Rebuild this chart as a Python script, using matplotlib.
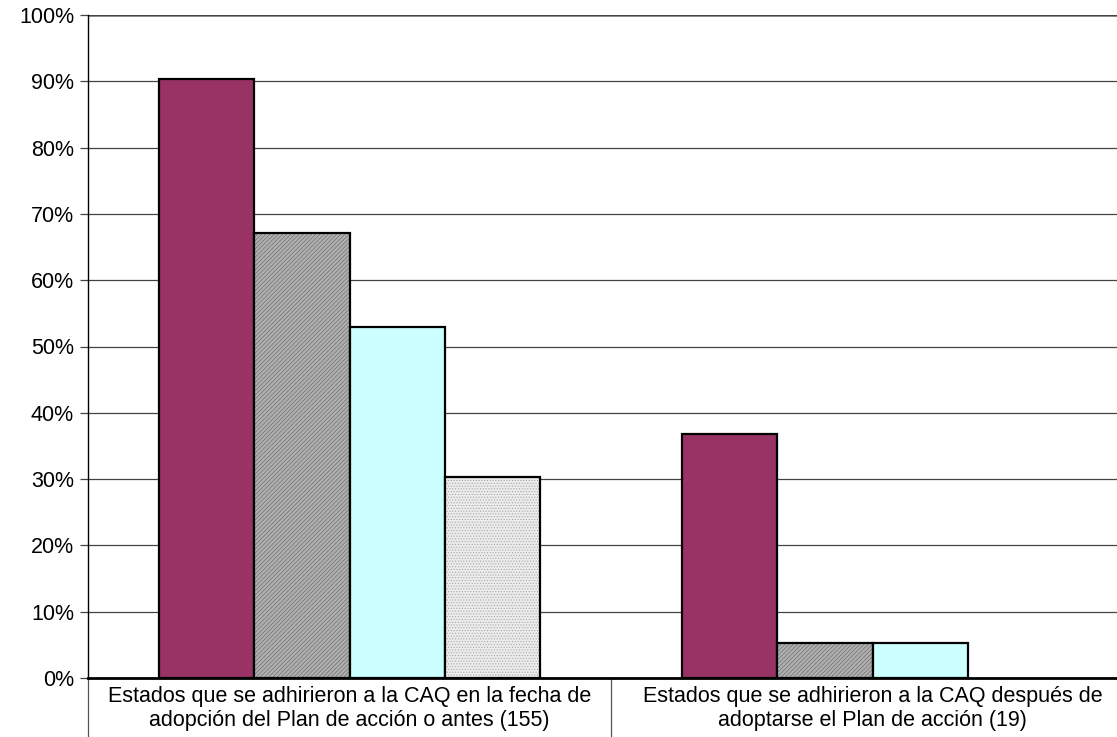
import numpy as np
import matplotlib.pyplot as plt

plt.rcParams['font.family'] = ['Liberation Sans', 'DejaVu Sans']
plt.rcParams['hatch.linewidth'] = 0.5

categories = ['Estados que se adhirieron a la CAQ en la fecha de\nadopción del Plan de acción o antes (155)',
              'Estados que se adhirieron a la CAQ después de\nadoptarse el Plan de acción (19)']
# share of states per series, in percent
series = [
    [90.3, 36.8],
    [67.1, 5.3],
    [52.9, 5.3],
    [30.3, 0.0],
]
colors = ['#993366', '#b0b0b0', '#ccffff', '#ececec']
hatches = [None, '////////', None, '......']
hatch_colors = ['black', '#707070', 'black', '#a8a8a8']

fig = plt.figure(figsize=(11.17, 7.37), dpi=100)
W, H = 1117, 737
ax = fig.add_axes([88 / W, 59 / H, 1046 / W, 663 / H])

width = 0.1826
x = np.arange(len(categories)) + 0.5
for i, vals in enumerate(series):
    pos = x + (i - 1.5) * width
    for p, v in zip(pos, vals):
        if v <= 0:
            continue
        b = ax.bar(p, v, width=width, color=colors[i], edgecolor='black',
                   linewidth=1.6, zorder=3)
        if hatches[i]:
            b[0].set_hatch(hatches[i])
            b[0]._hatch_color = plt.matplotlib.colors.to_rgba(hatch_colors[i])

ax.set_xlim(0, 2)
ax.set_ylim(0, 100)
ax.set_yticks(np.arange(0, 101, 10))
ax.set_yticklabels(['%d%%' % t for t in range(0, 101, 10)], fontsize=15.5)
ax.yaxis.grid(True, color='#444444', linewidth=0.9, zorder=0)
ax.tick_params(axis='y', direction='out', length=6, width=0.9, color='#444444', pad=4)

# category separators hang below the axis
ax.set_xticks([0, 1, 2])
ax.set_xticklabels([])
ax.tick_params(axis='x', direction='out', length=43, width=0.9, color='#555555')
for xc, lab in zip(x, categories):
    ax.text(xc, -1.2, lab, ha='center', va='top', fontsize=15.5,
            linespacing=1.2, transform=ax.transData)

for s in ['top', 'right']:
    ax.spines[s].set_visible(False)
ax.spines['left'].set_linewidth(1.0)
ax.spines['bottom'].set_linewidth(2.0)
ax.axhline(100, color='#888888', linewidth=2.0, zorder=1)

fig.savefig('out.png', dpi=100)
